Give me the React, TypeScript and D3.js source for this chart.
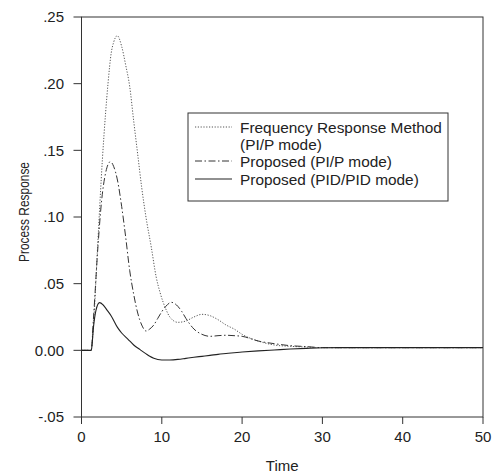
import React from "react";
import * as d3 from "d3";

// ---- data ----
const freqT = [0, 1.2, 1.5, 2.0, 2.6, 3.0, 3.3, 3.7, 4.0, 4.45, 5.0, 5.5, 6.0, 6.5, 7.0, 7.5, 8.0, 8.7, 9.3, 9.8, 10.5, 11, 12, 13, 14, 15, 16, 17, 18, 19, 20, 22, 24, 26, 28, 30, 35, 40, 45, 50];
const freqV = [0, 0, 0.02, 0.077, 0.143, 0.178, 0.2, 0.223, 0.231, 0.236, 0.228, 0.214, 0.198, 0.172, 0.147, 0.122, 0.101, 0.077, 0.055, 0.043, 0.031, 0.025, 0.021, 0.022, 0.025, 0.027, 0.026, 0.023, 0.019, 0.016, 0.012, 0.007, 0.004, 0.003, 0.0025, 0.002, 0.002, 0.002, 0.002, 0.002];

const piT = [0, 1.2, 1.5, 2.05, 2.5, 3.0, 3.6, 4.0, 4.5, 5.0, 5.5, 6.0, 6.5, 7.0, 7.5, 8.05, 8.5, 9.0, 9.5, 10, 10.5, 11.2, 12, 12.5, 13, 14, 15, 16, 17, 18, 19, 20, 22, 24, 26, 28, 30, 35, 40, 45, 50];
const piV = [0, 0, 0.025, 0.078, 0.112, 0.133, 0.1415, 0.138, 0.127, 0.108, 0.085, 0.06, 0.042, 0.028, 0.019, 0.0145, 0.016, 0.019, 0.024, 0.029, 0.033, 0.036, 0.033, 0.029, 0.024, 0.016, 0.012, 0.0105, 0.011, 0.0113, 0.011, 0.0105, 0.007, 0.005, 0.0035, 0.0028, 0.002, 0.002, 0.002, 0.002, 0.002];

const pidT = [0, 1.22, 1.5, 1.8, 2.25, 2.7, 3.2, 3.7, 4.5, 5.0, 5.8, 6.5, 7.3, 8.0, 8.5, 9.0, 10, 11, 12, 13, 14, 15, 16, 17, 18, 19, 20, 22, 24, 26, 28, 30, 32, 35, 40, 45, 50];
const pidV = [0, 0, 0.018, 0.03, 0.0358, 0.034, 0.03, 0.0258, 0.017, 0.013, 0.0083, 0.004, 0.0005, -0.0025, -0.0045, -0.006, -0.0072, -0.0072, -0.0068, -0.006, -0.0052, -0.0045, -0.0038, -0.003, -0.0024, -0.0018, -0.0013, -0.0004, 0.0003, 0.001, 0.0015, 0.0019, 0.002, 0.002, 0.002, 0.002, 0.002];

const xTicks = [0, 10, 20, 30, 40, 50];
const xTickLabels = ["0", "10", "20", "30", "40", "50"];
const yTicks = [-0.05, 0, 0.05, 0.1, 0.15, 0.2, 0.25];
const yTickLabels = ["-.05", "0.00", ".05", ".10", ".15", ".20", ".25"];

const legendLabels = [
  ["Frequency Response Method", "(PI/P mode)"],
  ["Proposed (PI/P mode)"],
  ["Proposed (PID/PID mode)"],
];

const W = 493;
const H = 474;
const FONT = "Liberation Sans, Arial, Helvetica, sans-serif";

export default function App() {
  const x = d3.scaleLinear().domain([0, 50]).range([81.5, 483]);
  const y = d3.scaleLinear().domain([-0.05, 0.25]).range([417, 17]);
  const line = d3
    .line<[number, number]>()
    .x((d) => x(d[0]))
    .y((d) => y(d[1]))
    .curve(d3.curveMonotoneX);

  const zip = (t: number[], v: number[]) => t.map((tt, i) => [tt, v[i]] as [number, number]);

  const series = [
    { d: line(zip(freqT, freqV)), stroke: "#555", dash: "1.2,1.6", w: 1 },
    { d: line(zip(piT, piV)), stroke: "#333", dash: "7,2.5,1.5,2.5", w: 1 },
    { d: line(zip(pidT, pidV)), stroke: "#222", dash: "none", w: 1.1 },
  ];

  const [x0, x1] = x.range();
  const [yb, yt] = y.range();

  const legendX = 188, legendY = 113, legendW = 260, legendH = 88;
  const rowY = [127, 161, 179];

  return (
    <svg
      width={W}
      height={H}
      style={{ position: "absolute", left: 0, top: 0, background: "#fff" }}
      fontFamily={FONT}
    >
      <rect x={0} y={0} width={W} height={H} fill="#fff" />
      {/* frame */}
      <rect x={x0} y={yt} width={x1 - x0} height={yb - yt} fill="none" stroke="#333" strokeWidth={1} />
      {/* y ticks */}
      {yTicks.map((v, i) => (
        <g key={"y" + i}>
          <line x1={x0 - 8} x2={x0} y1={y(v)} y2={y(v)} stroke="#333" />
          <text x={64} y={y(v) + 5.3} textAnchor="end" fontSize={15} fill="#222">
            {yTickLabels[i]}
          </text>
        </g>
      ))}
      {/* x ticks */}
      {xTicks.map((v, i) => (
        <g key={"x" + i}>
          <line x1={x(v)} x2={x(v)} y1={yb} y2={yb + 7} stroke="#333" />
          <text x={x(v)} y={442} textAnchor="middle" fontSize={15} fill="#222">
            {xTickLabels[i]}
          </text>
        </g>
      ))}
      {/* axis titles */}
      <text x={(x0 + x1) / 2} y={471} textAnchor="middle" fontSize={15} fill="#222">
        Time
      </text>
      <text
        transform={`translate(29,212) rotate(-90)`}
        textAnchor="middle"
        fontSize={14.5}
        fill="#222"
        textLength={100}
        lengthAdjust="spacingAndGlyphs"
      >
        Process Response
      </text>
      {/* curves */}
      {series.map((s, i) => (
        <path key={"s" + i} d={s.d || ""} fill="none" stroke={s.stroke} strokeWidth={s.w} strokeDasharray={s.dash} />
      ))}
      {/* legend */}
      <rect x={legendX} y={legendY} width={legendW} height={legendH} fill="#fff" stroke="#333" strokeWidth={1} />
      {series.map((s, i) => (
        <line
          key={"l" + i}
          x1={195}
          x2={232}
          y1={rowY[i]}
          y2={rowY[i]}
          stroke={s.stroke}
          strokeWidth={s.w}
          strokeDasharray={s.dash}
        />
      ))}
      {legendLabels.map((lines, i) =>
        lines.map((t, j) => (
          <text key={"t" + i + j} x={240} y={rowY[i] + 5.5 + j * 17} fontSize={15.4} fill="#222">
            {t}
          </text>
        ))
      )}
    </svg>
  );
}
